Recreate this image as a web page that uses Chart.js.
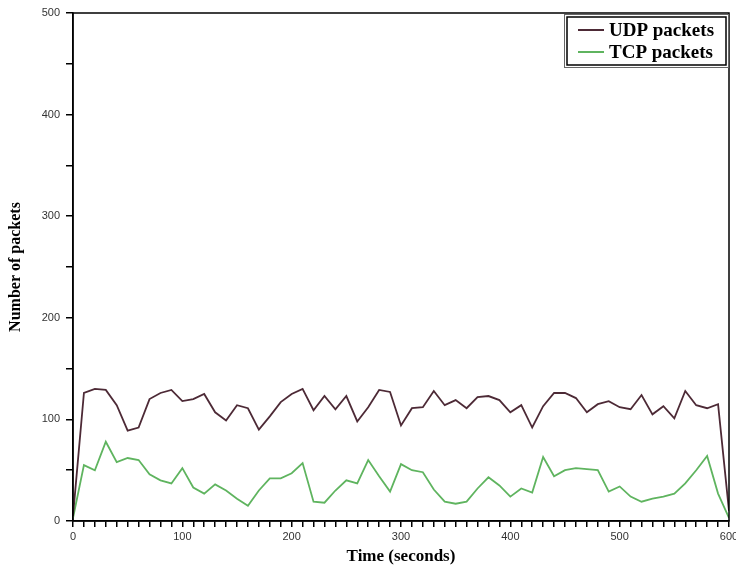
<!DOCTYPE html>
<html>
<head>
<meta charset="utf-8">
<script src="https://cdn.jsdelivr.net/npm/chart.js@4.4.1/dist/chart.umd.min.js"></script>
<style>
  html, body { margin: 0; padding: 0; background: #fff; }
  #wrap { width: 736px; height: 571px; }
</style>
</head>
<body>
<div id="wrap"><canvas id="chart"></canvas></div>
<script>
// sampled every 10 s
const times = [0,10,20,30,40,50,60,70,80,90,100,110,120,130,140,150,160,170,180,190,200,
  210,220,230,240,250,260,270,280,290,300,310,320,330,340,350,360,370,380,390,400,
  410,420,430,440,450,460,470,480,490,500,510,520,530,540,550,560,570,580,590,600];

const udpPackets = [5,126,130,129,114,89,92,120,126,129,118,120,125,107,99,114,111,90,103,117,125,
  130,109,123,110,123,98,112,129,127,94,111,112,128,114,119,111,122,123,119,107,
  114,92,113,126,126,121,107,115,118,112,110,124,105,113,101,128,114,111,115,10];

const tcpPackets = [3,55,50,78,58,62,60,46,40,37,52,33,27,36,30,22,15,30,42,42,47,
  57,19,18,30,40,37,60,44,29,56,50,48,31,19,17,19,32,43,35,24,
  32,28,63,44,50,52,51,50,29,34,24,19,22,24,27,37,50,64,27,3];

const seriesNames = ['UDP packets', 'TCP packets'];
const seriesColors = ['#4d2a36', '#5fb45f'];

const xy = (vals) => vals.map((v, i) => ({ x: times[i], y: v }));

// box around plot + legend drawn like the original figure
const framePlugin = {
  id: 'frame',
  afterDraw(chart) {
    const { ctx, chartArea: a } = chart;
    ctx.save();
    ctx.strokeStyle = '#000';
    ctx.lineWidth = 1.5;
    ctx.strokeRect(a.left, a.top, a.right - a.left, a.bottom - a.top);

    // legend box
    const bx = 567, by = 17, bw = 159, bh = 48;
    ctx.fillStyle = '#fff';
    ctx.fillRect(bx, by, bw, bh);
    ctx.lineWidth = 1;
    ctx.strokeStyle = '#666';
    ctx.strokeRect(bx - 2.5, by - 2.5, bw + 5, bh + 5);
    ctx.strokeStyle = '#000';
    ctx.lineWidth = 1.5;
    ctx.strokeRect(bx, by, bw, bh);
    ctx.font = 'bold 19px "Liberation Serif"';
    ctx.textBaseline = 'middle';
    chart.data.datasets.forEach((ds, i) => {
      const y = by + 13 + i * 22;
      ctx.strokeStyle = ds.borderColor;
      ctx.lineWidth = 2;
      ctx.beginPath();
      ctx.moveTo(bx + 11, y);
      ctx.lineTo(bx + 37, y);
      ctx.stroke();
      ctx.fillStyle = '#000';
      ctx.fillText(ds.label, bx + 42, y + 1);
    });
    ctx.restore();
  }
};

new Chart(document.getElementById('chart'), {
  type: 'line',
  data: {
    datasets: [
      { label: seriesNames[0], data: xy(udpPackets), borderColor: seriesColors[0], borderWidth: 1.8 },
      { label: seriesNames[1], data: xy(tcpPackets), borderColor: seriesColors[1], borderWidth: 1.8 }
    ]
  },
  plugins: [framePlugin],
  options: {
    responsive: true,
    maintainAspectRatio: false,
    animation: false,
    layout: { padding: { top: 13, right: 7, left: 6, bottom: 0 } },
    elements: { point: { radius: 0 }, line: { tension: 0 } },
    plugins: { legend: { display: false }, tooltip: { enabled: false } },
    scales: {
      x: {
        type: 'linear', min: 0, max: 600,
        afterFit: (s) => { s.height = 50; s.paddingLeft = 0; s.paddingRight = 0; },
        border: { display: true, color: '#000', width: 1.5 },
        grid: { drawOnChartArea: false, drawTicks: true, tickLength: 6, color: '#000', lineWidth: 1.5 },
        ticks: {
          stepSize: 10, autoSkip: false, maxRotation: 0, padding: 3,
          color: '#333', font: { family: 'Liberation Sans', size: 11 },
          callback: (v) => (v % 100 === 0 ? v : '')
        },
        title: {
          display: true, text: 'Time (seconds)', color: '#000', padding: { top: 0, bottom: 4 },
          font: { family: 'Liberation Serif', size: 17, weight: 'bold' }
        }
      },
      y: {
        min: 0, max: 500,
        afterFit: (s) => { s.width = 67; s.paddingTop = 0; s.paddingBottom = 0; },
        border: { display: true, color: '#000', width: 1.5 },
        grid: { drawOnChartArea: false, drawTicks: true, tickLength: 7, color: '#000', lineWidth: 1.5 },
        ticks: {
          stepSize: 50, autoSkip: false, padding: 6,
          color: '#333', font: { family: 'Liberation Sans', size: 11 },
          callback: (v) => (v % 100 === 0 ? v : '')
        },
        title: {
          display: true, text: 'Number of packets', color: '#000', padding: { top: 0, bottom: 0 },
          font: { family: 'Liberation Serif', size: 16, weight: 'bold' }
        }
      }
    }
  }
});
</script>
</body>
</html>
